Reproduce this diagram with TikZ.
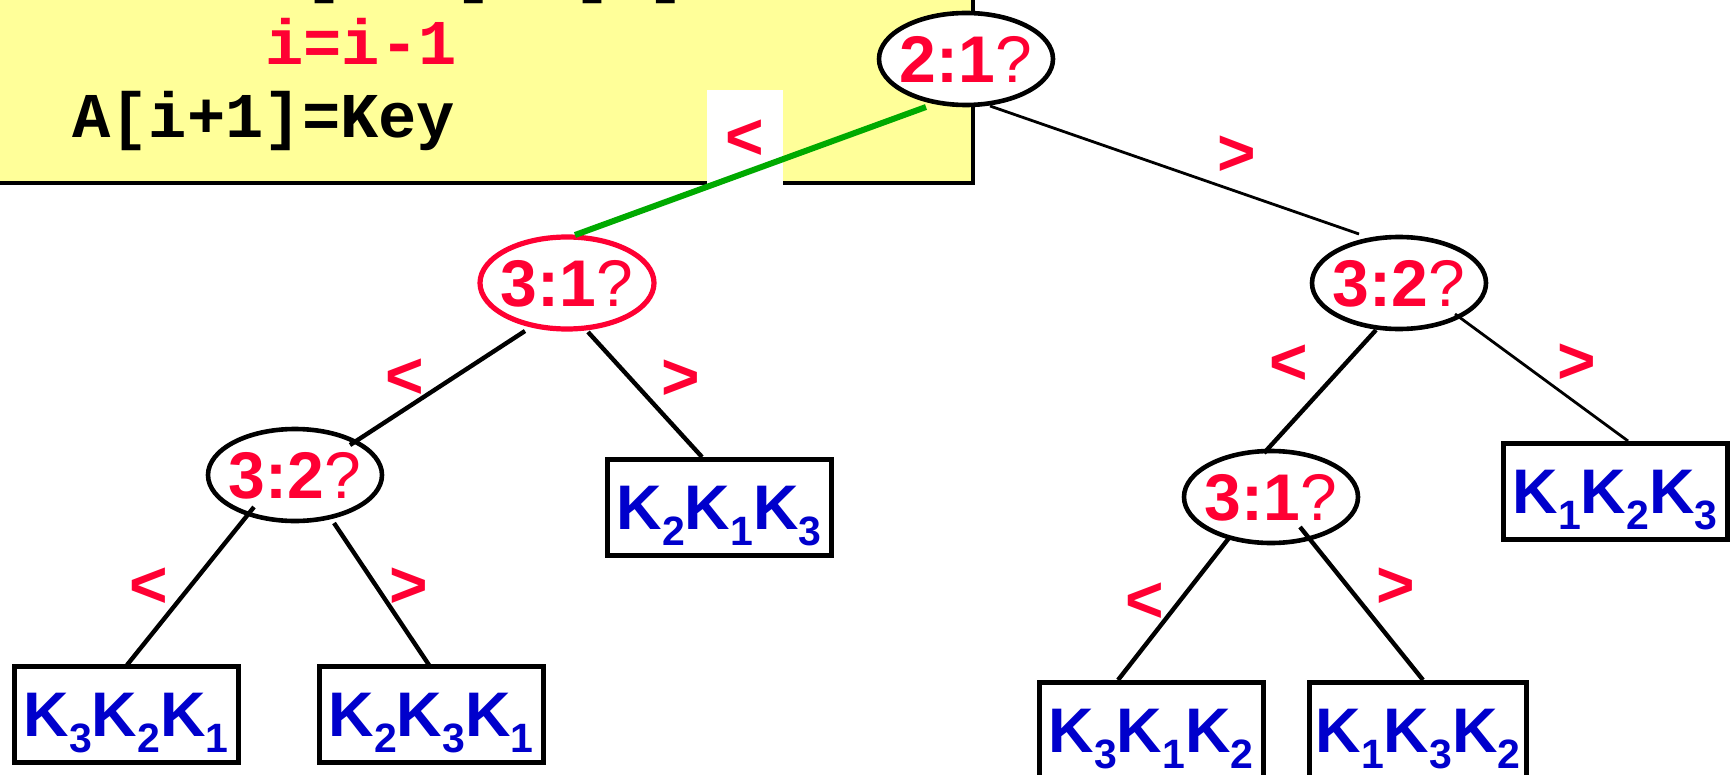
\documentclass[tikz,border=0pt]{standalone}
\usepackage{fontspec}
\setmainfont{Liberation Sans}
\newfontfamily\codefont{Liberation Mono}
\usetikzlibrary{shapes.geometric,calc}
\definecolor{tred}{RGB}{255,0,51}
\definecolor{tblue}{RGB}{0,0,204}
\definecolor{tyellow}{RGB}{255,255,153}
\definecolor{tgreen}{RGB}{0,170,0}
\newcommand{\cmplab}[1]{\makebox[0pt]{\textbf{#1}?}}
\newcommand{\ksub}[1]{\raisebox{-8pt}{\fontsize{20.5}{20.5}\selectfont\bfseries #1}}
\newcommand{\kseq}[3]{K\ksub{#1}K\ksub{#2}K\ksub{#3}}
\begin{document}
\begin{tikzpicture}[x=0.5pt,y=-0.5pt,
  codeline/.style={font=\codefont\bfseries\fontsize{31.9}{31.9}\selectfont, inner sep=0pt, anchor=base west},
  cmp/.style={ellipse, draw=black, line width=2.3pt, fill=white, minimum width=87pt, minimum height=46pt,
    inner sep=0pt, text height=23.5pt, text depth=0pt, text=tred, font=\fontsize{33}{33}\selectfont},
  leaf/.style={rectangle, draw=black, line width=2.5pt, fill=white, minimum width=112pt, minimum height=48pt,
    inner sep=0pt, text height=22.5pt, text depth=0pt, text=tblue, font=\bfseries\fontsize{31.5}{31.5}\selectfont},
  lbl/.style={text=tred, font=\bfseries\fontsize{33}{33}\selectfont, inner sep=0pt},
  edge/.style={draw=black, line width=2.2pt},
  thinedge/.style={draw=black, line width=1.4pt},
  hotedge/.style={draw=tgreen, line width=3pt}]
\useasboundingbox (0,0) rectangle (1732,775);
\fill[white] (0,0) rectangle (1732,775);
% code box
\draw[fill=tyellow, line width=2.4pt] (-30,-30) rectangle (973,183);
\fill[white] (707,90) rectangle (783,185);
\node[codeline] (c0) at (265,-9) {A[i+1]=A[i]};
\node[codeline, text=tred] (c1) at (265,65) {i=i-1};
\node[codeline] (c2) at (72,138) {A[i+1]=Key};
% comparison nodes
\node[cmp] (root) at (966,59) {\cmplab{2:1}};
\node[cmp, draw=tred, line width=2.6pt] (n31) at (567,283) {\cmplab{3:1}};
\node[cmp] (n32l) at (295,475) {\cmplab{3:2}};
\node[cmp] (n32r) at (1399,283) {\cmplab{3:2}};
\node[cmp] (n31r) at (1271,497) {\cmplab{3:1}};
% leaves
\node[leaf] (b213) at (719,507) {\kseq{2}{1}{3}};
\node[leaf] (b321) at (126,714) {\kseq{3}{2}{1}};
\node[leaf] (b231) at (431,714) {\kseq{2}{3}{1}};
\node[leaf] (b123) at (1615,491) {\kseq{1}{2}{3}};
\node[leaf] (b312) at (1151,730) {\kseq{3}{1}{2}};
\node[leaf, minimum width=108.5pt] (b132) at (1418,730) {\kseq{1}{3}{2}};
% edges
\draw[hotedge] ($(root)+(-40,48)$) -- ($(n31)+(8,-48)$);
\draw[thinedge] ($(root)+(24,47)$) -- ($(n32r)+(-40,-49)$);
\draw[edge] ($(n31)+(-42,48)$) -- ($(n32l)+(55,-30)$);
\draw[edge] ($(n31)+(21,49)$) -- ($(b213)+(-17,-50)$);
\draw[edge] ($(n32l)+(-41,32)$) -- ($(b321)+(1,-49)$);
\draw[edge] ($(n32l)+(39,48)$) -- ($(b231)+(-2,-49)$);
\draw[edge] ($(n32r)+(-23,47)$) -- ($(n31r)+(-7,-44)$);
\draw[thinedge] ($(n32r)+(56,31)$) -- ($(b123)+(13,-50)$);
\draw[edge] ($(n31r)+(-42,41)$) -- ($(b312)+(-33,-50)$);
\draw[edge] ($(n31r)+(29,30)$) -- ($(b132)+(5,-50)$);
% edge labels
\node[lbl] (e1) at (745,140) {<};
\node[lbl] (e2) at (1237,156) {>};
\node[lbl] (e3) at (405,379) {<};
\node[lbl] (e4) at (681,380) {>};
\node[lbl] (e5) at (149,588) {<};
\node[lbl] (e6) at (409,588) {>};
\node[lbl] (e7) at (1289,365) {<};
\node[lbl] (e8) at (1577,364) {>};
\node[lbl] (e9) at (1145,603) {<};
\node[lbl] (e10) at (1396,588) {>};
\end{tikzpicture}
\end{document}
